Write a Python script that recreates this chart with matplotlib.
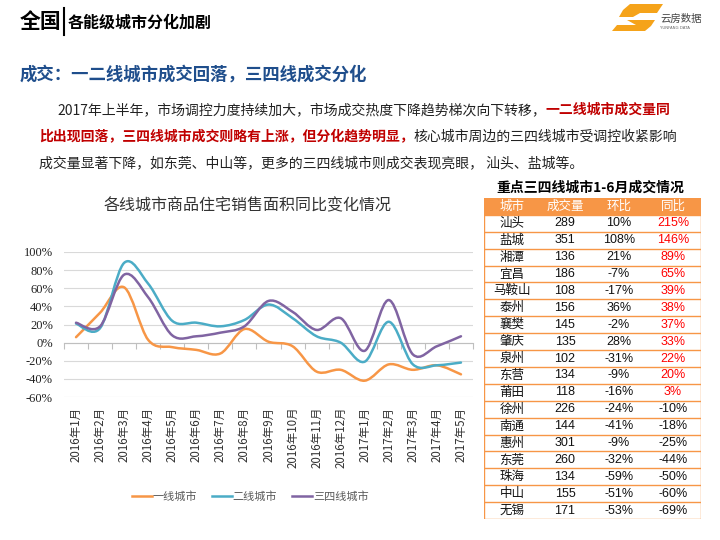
import numpy as np
import matplotlib
matplotlib.use("Agg")
import matplotlib.pyplot as plt
from matplotlib.path import Path
from matplotlib.patches import PathPatch, Polygon, Rectangle
from matplotlib.lines import Line2D

plt.rcParams['font.family'] = ['Noto Sans CJK SC', 'DejaVu Sans']

# ---- chart data ----
months = ['2016年1月', '2016年2月', '2016年3月', '2016年4月', '2016年5月', '2016年6月',
          '2016年7月', '2016年8月', '2016年9月', '2016年10月', '2016年11月', '2016年12月',
          '2017年1月', '2017年2月', '2017年3月', '2017年4月', '2017年5月']
tier1 = [6, 33, 61, 3, -5, -8, -12, 15, 1, -4, -32, -30, -42, -24, -30, -25, -35]
tier2 = [21, 16, 88, 65, 24, 22, 18, 25, 42, 27, 7, 0, -21, 23, -24, -25, -22]
tier34 = [22, 18, 75, 50, 8, 7, 11, 18, 46, 34, 14, 27, -9, 47, -13, -4, 7]
series_names = ['一线城市', '二线城市', '三四线城市']
series_colors = ['#F79646', '#4BACC6', '#8064A2']
y_ticks = [-60, -40, -20, 0, 20, 40, 60, 80, 100]

# ---- table data ----
cities = ['汕头', '盐城', '湘潭', '宜昌', '马鞍山', '泰州', '襄樊', '肇庆', '泉州',
          '东营', '莆田', '徐州', '南通', '惠州', '东莞', '珠海', '中山', '无锡']
volume = [289, 351, 136, 186, 108, 156, 145, 135, 102, 134, 118, 226, 144, 301, 260, 134, 155, 171]
mom = [10, 108, 21, -7, -17, 36, -2, 28, -31, -9, -16, -24, -41, -9, -32, -59, -51, -53]
yoy = [215, 146, 89, 65, 39, 38, 37, 33, 22, 20, 3, -10, -18, -25, -44, -50, -60, -69]
table_head = ['城市', '成交量', '环比', '同比']

W, H = 720, 540


def fx(x):
    return x / W


def fy(y):
    return 1 - y / H


def smooth_path(xs, ys):
    """cubic bezier through the points, like Excel's smoothed line"""
    pts = list(zip(xs, ys))
    n = len(pts)
    verts = [pts[0]]
    codes = [Path.MOVETO]
    for i in range(n - 1):
        p0 = pts[i - 1] if i > 0 else pts[i]
        p1, p2 = pts[i], pts[i + 1]
        p3 = pts[i + 2] if i + 2 < n else pts[i + 1]
        c1 = (p1[0] + (p2[0] - p0[0]) / 6, p1[1] + (p2[1] - p0[1]) / 6)
        c2 = (p2[0] - (p3[0] - p1[0]) / 6, p2[1] - (p3[1] - p1[1]) / 6)
        verts += [c1, c2, p2]
        codes += [Path.CURVE4] * 3
    return Path(verts, codes)


fig = plt.figure(figsize=(7.2, 5.4), dpi=100)
fig.patch.set_facecolor('white')

# ---- header ----
fig.text(fx(20), fy(21), '全国', fontsize=15, fontweight='bold', va='center', ha='left')
fig.add_artist(Line2D([fx(64), fx(64)], [fy(8), fy(35)], color='black', lw=1.5))
fig.text(fx(68), fy(23), '各能级城市分化加剧', fontsize=11.5, fontweight='bold',
         va='center', ha='left')

# logo
logo_color = '#F5A31A'
top_piece = [(630, 4), (663, 4), (657, 13), (640, 13), (633, 17), (619, 17), (623, 10)]
bottom_piece = [(627, 20), (655, 20), (651, 26), (645, 31), (612, 31), (617, 25), (636, 25)]
for piece in (top_piece, bottom_piece):
    fig.add_artist(Polygon([(fx(a), fy(b)) for a, b in piece], closed=True,
                           facecolor=logo_color, edgecolor='none',
                           transform=fig.transFigure))
fig.text(fx(660), fy(19), '云房数据', fontsize=7.5, color='#444444', va='center')
fig.text(fx(660), fy(28), 'YUNFANG DATA', fontsize=2.8, color='#666666', va='center',
         family='DejaVu Sans')

# subtitle
fig.text(fx(20), fy(75), '成交：一二线城市成交回落，三四线成交分化', fontsize=12.5,
         fontweight='bold', color='#1F4E8C', va='center')

# paragraph with red highlights
red = '#C00000'
para = [
    (57, 110, [('2017年上半年，市场调控力度持续加大，市场成交热度下降趋势梯次向下转移，', False),
               ('一二线城市成交量同', True)]),
    (39, 137, [('比出现回落，三四线城市成交则略有上涨，但分化趋势明显，', True),
               ('核心城市周边的三四线城市受调控收紧影响', False)]),
    (39, 163, [('成交量显著下降，如东莞、中山等，更多的三四线城市则成交表现亮眼， 汕头、盐城等。', False)]),
]
renderer = fig.canvas.get_renderer()
for x0, y0, parts in para:
    x = fx(x0)
    for txt, hl in parts:
        t = fig.text(x, fy(y0), txt, fontsize=10, va='center', ha='left',
                     color=red if hl else '#222222',
                     fontweight='bold' if hl else 'normal')
        bb = t.get_window_extent(renderer)
        x = bb.x1 / fig.bbox.width

# ---- line chart ----
fig.text(fx(248), fy(206), '各线城市商品住宅销售面积同比变化情况', fontsize=11.5,
         color='#333333', ha='center', va='center')

ax = fig.add_axes([fx(64), fy(397), fx(473) - fx(64), fy(252) - fy(397)])
x_idx = np.arange(len(months))
for vals, color in zip([tier1, tier2, tier34], series_colors):
    ax.add_patch(PathPatch(smooth_path(x_idx, vals), facecolor='none', edgecolor=color,
                           lw=1.8, capstyle='round', joinstyle='round', zorder=3))

ax.set_xlim(-0.5, len(months) - 0.5)
ax.set_ylim(-60, 100)
ax.set_yticks(y_ticks, labels=[f'{v}%' for v in y_ticks],
              fontfamily='Liberation Serif', fontsize=9)
ax.tick_params(axis='y', length=0, pad=8, labelcolor='#222222')
ax.grid(axis='y', color='#D9D9D9', lw=0.8)
ax.set_axisbelow(True)
for side in ['top', 'left', 'right']:
    ax.spines[side].set_visible(False)
ax.spines['bottom'].set_position(('data', 0))
ax.spines['bottom'].set_color('#BFBFBF')
ax.spines['bottom'].set_linewidth(0.8)
ax.set_xticks(x_idx, labels=[])
ax.set_xticks(np.arange(-0.5, len(months), 1), minor=True)
ax.tick_params(axis='x', which='major', length=0)
ax.tick_params(axis='x', which='minor', length=4, direction='out', color='#BFBFBF', width=0.8)

sec = ax.secondary_xaxis('bottom')
sec.set_xticks(x_idx, labels=months, rotation=90, fontsize=8.3, color='#333333')
sec.tick_params(length=0, pad=7)
sec.spines['bottom'].set_visible(False)

handles = [Line2D([], [], color=c, lw=1.8) for c in series_colors]
fig.legend(handles, series_names, loc='center', bbox_to_anchor=(fx(250), fy(497)),
           ncol=3, frameon=False, fontsize=8, handlelength=1.8, handletextpad=0.1,
           columnspacing=1.3, labelcolor='#595959')

# ---- table ----
fig.text(fx(590), fy(188), '重点三四线城市1-6月成交情况', fontsize=10, fontweight='bold',
         ha='center', va='center')
tab = fig.add_axes([fx(484), fy(519), fx(701) - fx(484), fy(198) - fy(519)])
n_rows = len(cities) + 1
tab.set_xlim(0, 1)
tab.set_ylim(n_rows, 0)
tab.axis('off')
orange = '#F79646'
tab.add_patch(Rectangle((0, 0), 1, 1, facecolor=orange, edgecolor='none'))
col_x = [0.129, 0.373, 0.622, 0.871]
for cx, h in zip(col_x, table_head):
    tab.text(cx, 0.5, h, color='white', fontsize=9, ha='center', va='center')
for r in range(1, n_rows + 1):
    tab.axhline(r, color=orange, lw=1.0)
tab.axvline(0, color=orange, lw=1.0)
tab.axvline(1, color=orange, lw=1.0)
cell_font = ['Liberation Sans', 'Noto Sans CJK SC']
for i, city in enumerate(cities):
    yc = i + 1.5
    tab.text(col_x[0], yc, city, fontsize=9, ha='center', va='center', color='#111111')
    tab.text(col_x[1], yc, str(volume[i]), fontsize=9, ha='center', va='center',
             color='#111111', family=cell_font)
    tab.text(col_x[2], yc, f'{mom[i]}%', fontsize=9, ha='center', va='center',
             color='#111111', family=cell_font)
    tab.text(col_x[3], yc, f'{yoy[i]}%', fontsize=9, ha='center', va='center',
             color='#FF0000' if yoy[i] > 0 else '#111111', family=cell_font)

fig.savefig('out.png', dpi=100, facecolor='white')
